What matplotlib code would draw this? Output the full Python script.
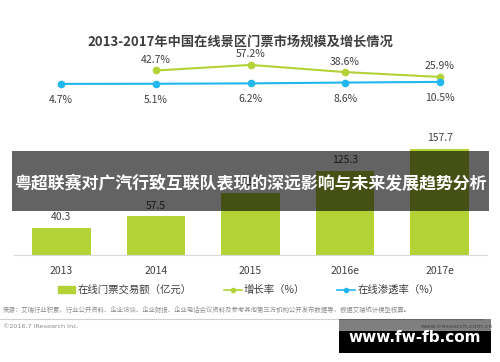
import matplotlib
matplotlib.use('Agg')
import matplotlib.pyplot as plt
from matplotlib.patches import Rectangle, Patch
from matplotlib.lines import Line2D

plt.rcParams['font.family'] = ['Noto Sans CJK SC', 'DejaVu Sans']

# 数据
years = ['2013', '2014', '2015', '2016e', '2017e']
volume = [40.3, 57.5, 92.7, 125.3, 157.7]          # 在线门票交易额（亿元）
growth_years = ['2014', '2015', '2016e', '2017e']
growth = [42.7, 57.2, 38.6, 25.9]                   # 增长率（%）
penetration = [4.7, 5.1, 6.2, 8.6, 10.5]            # 在线渗透率（%）

title = '2013-2017年中国在线景区门票市场规模及增长情况'
overlay = '粤超联赛对广汽行致互联队表现的深远影响与未来发展趋势分析'
source = '来源：艾瑞行业积累、行业公开资料、企业访谈、企业财报、企业电话会议资料及参考其他第三方机构公开发布数据等，根据艾瑞统计模型核算。'

green = '#B2D235'
blue = '#22B8EE'
txt = '#404040'

W, H = 500, 362
fig = plt.figure(figsize=(W / 100, H / 100), dpi=100)


def box(x0, y0, x1, y1):
    # 像素 -> figure 坐标（y 从顶部算）
    return [x0 / W, 1 - y1 / H, (x1 - x0) / W, (y1 - y0) / H]


# 柱状图
ax = fig.add_axes(box(14, 140, 487, 255))
xs = list(range(len(years)))
bars = ax.bar(xs, volume, width=0.62, color=green, zorder=2)
for b, v in zip(bars, volume):
    ax.annotate(f'{v}', (b.get_x() + b.get_width() / 2, v), xytext=(0, 4),
                textcoords='offset points', ha='center', va='bottom',
                fontsize=7.5, color=txt)
ax.set_xlim(-0.5, 4.5)
ax.set_ylim(0, 171)
ax.set_xticks(xs)
ax.set_xticklabels(years, fontsize=7.5, color=txt)
ax.tick_params(axis='x', length=0, pad=8)
ax.set_yticks([])
for s in ['top', 'right', 'left']:
    ax.spines[s].set_visible(False)
ax.spines['bottom'].set_color('#D9D9D9')
ax.patch.set_alpha(0)

# 增长率
ax2 = fig.add_axes(box(14, 60, 487, 110))
gx = [years.index(y) for y in growth_years]
ax2.plot(gx, growth, color=green, lw=1.5, marker='o', ms=4.5, zorder=3)
for x, v in zip(gx, growth):
    ax2.annotate(f'{v}%', (x, v), xytext=(0, 4), textcoords='offset points',
                 ha='center', va='bottom', fontsize=7.5, color=txt)
ax2.set_xlim(-0.5, 4.5)
ax2.set_ylim(-60, 70)
ax2.axis('off')

# 渗透率
ax3 = fig.add_axes(box(14, 60, 487, 110))
ax3.plot(xs, penetration, color=blue, lw=1.5, marker='o', ms=4.5, zorder=3)
for x, v in zip(xs, penetration):
    ax3.annotate(f'{v}%', (x, v), xytext=(0, -8), textcoords='offset points',
                 ha='center', va='top', fontsize=7.5, color=txt)
ax3.set_xlim(-0.5, 4.5)
ax3.set_ylim(-71, 74)
ax3.axis('off')

fig.text(0.48, 1 - 42 / H, title, ha='center', va='center', fontsize=9.5,
         fontweight='bold', color='#3F3F3F')

# 图例
handles = [Patch(color=green),
           Line2D([], [], color=green, marker='o', ms=3, lw=1.2),
           Line2D([], [], color=blue, marker='o', ms=3, lw=1.2)]
labels = ['在线门票交易额（亿元）', '增长率（%）', '在线渗透率（%）']
fig.legend(handles, labels, loc='center', bbox_to_anchor=(0.497, 1 - 290 / H),
           ncol=3, frameon=False, fontsize=7.5, handlelength=1.7,
           handleheight=0.6, handletextpad=0.2, columnspacing=3.1,
           labelcolor=txt)

fig.text(3 / W, 1 - 310 / H, source, ha='left', va='center', fontsize=4.6,
         color='#8C8C8C')
fig.add_artist(Line2D([0, 483 / W], [1 - 319 / H] * 2, color='#D0D0D0', lw=0.8))
fig.text(3 / W, 1 - 327 / H, '©2016.7 iResearch Inc.', ha='left', va='center',
         fontsize=4.6, color='#8C8C8C', family='DejaVu Sans')
fig.text(493 / W, 1 - 327 / H, 'www.iresearch.com.cn', ha='right', va='center',
         fontsize=4.6, color='#8C8C8C', family='DejaVu Sans')

# 覆盖层
ov = box(12, 151, 489, 211)
fig.add_artist(Rectangle(ov[:2], ov[2], ov[3], transform=fig.transFigure,
                         color='black', alpha=0.61, lw=0, zorder=5))
fig.text(0.5, 1 - 184 / H, overlay, ha='center', va='center', fontsize=12.2,
         fontweight='bold', color='white', zorder=6)

b1 = box(339, 319, 491, 331)
fig.add_artist(Rectangle(b1[:2], b1[2], b1[3], transform=fig.transFigure,
                         color='black', alpha=0.5, lw=0, zorder=5))
b2 = box(339, 331, 491, 353)
fig.add_artist(Rectangle(b2[:2], b2[2], b2[3], transform=fig.transFigure,
                         color='black', lw=0, zorder=5))
fig.text(415 / W, 1 - 338 / H, 'www.fw-fb.com', ha='center', va='center',
         fontsize=11, fontweight='bold', color='white', family='DejaVu Sans',
         zorder=6)

fig.savefig('out.png', dpi=100)
